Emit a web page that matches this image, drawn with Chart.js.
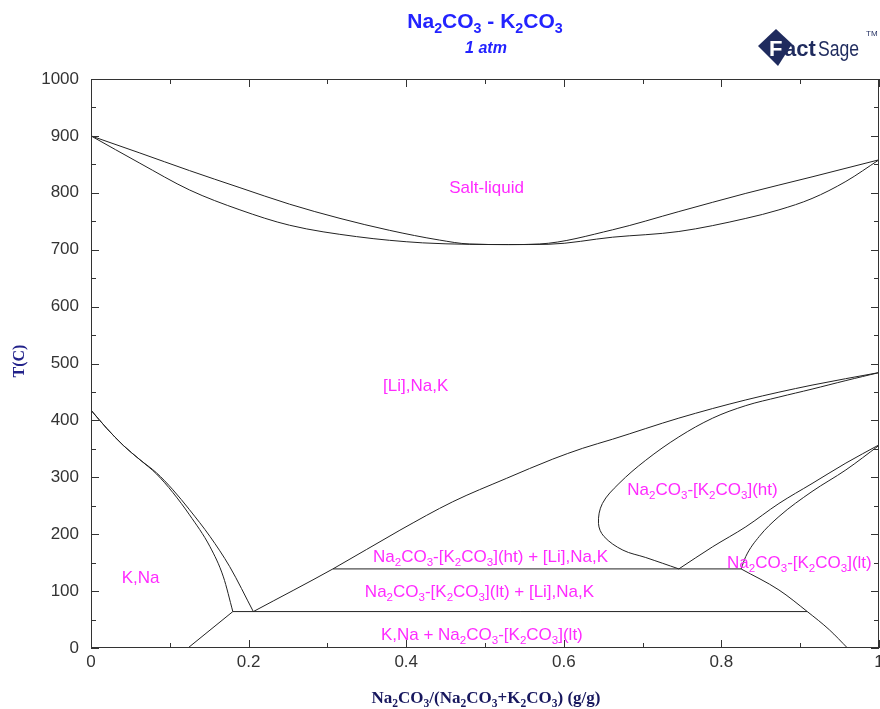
<!DOCTYPE html>
<html>
<head>
<meta charset="utf-8">
<script src="https://cdn.jsdelivr.net/npm/chart.js@4.4.0/dist/chart.umd.min.js"></script>
<style>
  body { margin: 0; background: #fff; }
  #wrap { width: 880px; height: 709px; position: relative; }
</style>
</head>
<body>
<div id="wrap"><canvas id="pd"></canvas></div>
<script>
// phase boundaries as [x, T(C)]
const liquidus = [[0,900],[0.062,870],[0.125,839],[0.189,809],[0.252,780],[0.316,755],[0.379,734],[0.442,717],[0.48,710],[0.53,709],[0.569,710],[0.662,735],[0.746,767],[0.831,799],[0.915,828],[1,858]];
const solidus = [[0,900],[0.062,852],[0.125,805],[0.189,770],[0.252,743],[0.337,723],[0.421,712],[0.48,709.5],[0.53,709],[0.58,709.5],[0.662,722],[0.746,732],[0.831,755],[0.873,770],[0.915,790],[0.958,820],[1,858]];
const kSolvusOuter = [[0,418],[0.02,386],[0.041,356],[0.062,331],[0.083,308],[0.104,278],[0.125,243],[0.151,196],[0.176,143],[0.206,64]];
const kSolvusInner = [[0,418],[0.02,386],[0.041,356],[0.062,331],[0.083,306],[0.104,273],[0.125,234],[0.151,178],[0.168,125],[0.18,64]];
const lowLeft = [[0.123,0],[0.18,64]];
const eutectoid = [[0.18,64],[0.909,64]];
const liSolvus = [[0.206,64],[0.307,139],[0.392,207],[0.459,257],[0.527,298],[0.586,332],[0.624,351],[0.662,367],[0.746,404],[0.831,436],[0.915,462],[1,484]];
const htTie = [[0.307,139],[0.825,139]];
const htLoop = [[1,484],[0.958,470],[0.915,455],[0.873,441],[0.831,426],[0.789,404],[0.746,371],[0.704,330],[0.670,289],[0.649,254],[0.644,219],[0.651,196],[0.675,172],[0.704,159],[0.746,139]];
const htRight = [[0.746,139],[0.789,178],[0.831,213],[0.873,254],[0.915,289],[0.958,325],[1,357]];
const ltLeft = [[0.825,139],[0.831,161],[0.848,196],[0.873,231],[0.915,275],[0.958,313],[1,356]];
const naSolvus = [[0.825,139],[0.873,102],[0.909,64],[0.937,32],[0.96,0]];

const smooth = [liquidus, solidus, kSolvusOuter, kSolvusInner, liSolvus, htRight, ltLeft, naSolvus];
const loops = [htLoop];
const straight = [lowLeft, eutectoid, htTie];

const xTicks = [0, 0.2, 0.4, 0.6, 0.8, 1];
const yTicks = [0, 100, 200, 300, 400, 500, 600, 700, 800, 900, 1000];

// {..} marks a subscript
const regionLabels = [
  { text: 'Salt-liquid', x: 0.502, y: 810 },
  { text: '[Li],Na,K', x: 0.412, y: 462 },
  { text: 'Na{2}CO{3}-[K{2}CO{3}](ht)', x: 0.776, y: 279 },
  { text: 'K,Na', x: 0.063, y: 125 },
  { text: 'Na{2}CO{3}-[K{2}CO{3}](ht) + [Li],Na,K', x: 0.507, y: 162 },
  { text: 'Na{2}CO{3}-[K{2}CO{3}](lt) + [Li],Na,K', x: 0.493, y: 100 },
  { text: 'K,Na + Na{2}CO{3}-[K{2}CO{3}](lt)', x: 0.496, y: 25 },
  { text: 'Na{2}CO{3}-[K{2}CO{3}](lt)', x: 0.899, y: 151 }
];

function drawRich(ctx, str, x, y, size, o) {
  const parts = str.split(/(\{[^}]*\})/).filter(Boolean)
    .map(p => p[0] === '{' ? { t: p.slice(1, -1), sub: true } : { t: p, sub: false });
  const font = s => `${o.style || 'normal'} ${o.weight || 'normal'} ${s}px ${o.family}`;
  let w = 0;
  parts.forEach(p => {
    ctx.font = font(p.sub ? size * 0.68 : size);
    p.w = ctx.measureText(p.t).width;
    w += p.w;
  });
  let cx = o.align === 'center' ? x - w / 2 : (o.align === 'right' ? x - w : x);
  ctx.fillStyle = o.color;
  ctx.textAlign = 'left';
  ctx.textBaseline = 'alphabetic';
  parts.forEach(p => {
    ctx.font = font(p.sub ? size * 0.68 : size);
    ctx.fillText(p.t, cx, p.sub ? y + size * 0.22 : y);
    cx += p.w;
  });
}

const decor = {
  id: 'decor',
  afterDatasetsDraw(chart) {
    const { ctx, chartArea: a, scales: { x, y } } = chart;
    ctx.save();
    ctx.strokeStyle = '#333';
    ctx.lineWidth = 1;
    ctx.strokeRect(a.left + 0.5, a.top + 0.5, a.right - a.left - 1, a.bottom - a.top - 1);
    ctx.beginPath();
    for (let i = 0; i <= 10; i++) {
      const px = Math.round(x.getPixelForValue(i / 10)) + 0.5;
      const len = i % 2 === 0 ? 8 : 5;
      ctx.moveTo(px, a.bottom); ctx.lineTo(px, a.bottom - len);
      ctx.moveTo(px, a.top); ctx.lineTo(px, a.top + len);
    }
    for (let i = 0; i <= 20; i++) {
      const py = Math.round(y.getPixelForValue(i * 50)) + 0.5;
      const len = i % 2 === 0 ? 8 : 5;
      ctx.moveTo(a.left, py); ctx.lineTo(a.left + len, py);
      ctx.moveTo(a.right, py); ctx.lineTo(a.right - len, py);
    }
    ctx.stroke();

    regionLabels.forEach(l => {
      drawRich(ctx, l.text, x.getPixelForValue(l.x), y.getPixelForValue(l.y) + 6, 17,
        { family: 'Arial, "Liberation Sans", sans-serif', color: '#ff2bff', align: 'center' });
    });
    ctx.restore();
  },
  afterDraw(chart) {
    const { ctx } = chart;
    ctx.save();
    drawRich(ctx, 'Na{2}CO{3} - K{2}CO{3}', 485, 28, 21,
      { family: 'Arial, "Liberation Sans", sans-serif', weight: 'bold', color: '#2323ff', align: 'center' });
    drawRich(ctx, '1 atm', 486, 53, 16,
      { family: 'Arial, "Liberation Sans", sans-serif', weight: 'bold', style: 'italic', color: '#2323ff', align: 'center' });
    drawRich(ctx, 'Na{2}CO{3}/(Na{2}CO{3}+K{2}CO{3}) (g/g)', 486, 703, 17,
      { family: '"Liberation Serif", "Times New Roman", serif', weight: 'bold', color: '#17175e', align: 'center' });
    ctx.translate(24, 361);
    ctx.rotate(-Math.PI / 2);
    drawRich(ctx, 'T(C)', 0, 0, 16,
      { family: '"Liberation Serif", "Times New Roman", serif', weight: 'bold', color: '#22228a', align: 'center' });
    ctx.restore();

    // FactSage logo
    ctx.save();
    ctx.fillStyle = '#1f2b5e';
    ctx.beginPath();
    ctx.moveTo(758, 46); ctx.lineTo(776, 29); ctx.lineTo(792, 44); ctx.lineTo(778, 66); ctx.closePath();
    ctx.fill();
    ctx.fillStyle = '#fff';
    ctx.font = 'bold 22px Arial, "Liberation Sans", sans-serif';
    ctx.textBaseline = 'alphabetic';
    ctx.fillText('F', 769, 56);
    ctx.fillStyle = '#1f2b5e';
    ctx.fillText('act', 784, 56);
    ctx.save();
    ctx.translate(818, 56);
    ctx.scale(0.8, 1);
    ctx.font = '22px Arial, sans-serif';
    ctx.fillText('Sage', 0, 0);
    ctx.restore();
    ctx.font = '8px Arial, sans-serif';
    ctx.fillText('TM', 866, 36);
    ctx.restore();
  }
};

const toPts = c => c.map(p => ({ x: p[0], y: p[1] }));
const datasets = [];
smooth.forEach(c => datasets.push({ data: toPts(c), cubicInterpolationMode: 'monotone' }));
loops.forEach(c => datasets.push({ data: toPts(c), tension: 0.35 }));
straight.forEach(c => datasets.push({ data: toPts(c), tension: 0 }));
datasets.forEach(d => Object.assign(d, { borderColor: '#222', borderWidth: 1, pointRadius: 0, fill: false }));

new Chart(document.getElementById('pd'), {
  type: 'line',
  data: { datasets },
  options: {
    responsive: true,
    maintainAspectRatio: false,
    animation: false,
    layout: { padding: { top: 79, right: 1, left: 0, bottom: 0 } },
    plugins: { legend: { display: false }, tooltip: { enabled: false } },
    scales: {
      x: {
        type: 'linear', min: 0, max: 1,
        afterFit: s => { s.height = 61; s.paddingLeft = 0; s.paddingRight = 0; },
        afterBuildTicks: s => { s.ticks = xTicks.map(v => ({ value: v })); },
        ticks: {
          padding: 4, color: '#333',
          font: { family: 'Arial, "Liberation Sans", sans-serif', size: 17 },
          callback: v => String(+v.toFixed(1))
        },
        grid: { display: false, drawTicks: false },
        border: { display: false }
      },
      y: {
        type: 'linear', min: 0, max: 1000,
        afterFit: s => { s.width = 91; s.paddingTop = 0; s.paddingBottom = 0; },
        afterBuildTicks: s => { s.ticks = yTicks.map(v => ({ value: v })); },
        ticks: {
          padding: 12, color: '#333',
          font: { family: 'Arial, "Liberation Sans", sans-serif', size: 17 },
          callback: v => String(v)
        },
        grid: { display: false, drawTicks: false },
        border: { display: false }
      }
    }
  },
  plugins: [decor]
});
</script>
</body>
</html>
